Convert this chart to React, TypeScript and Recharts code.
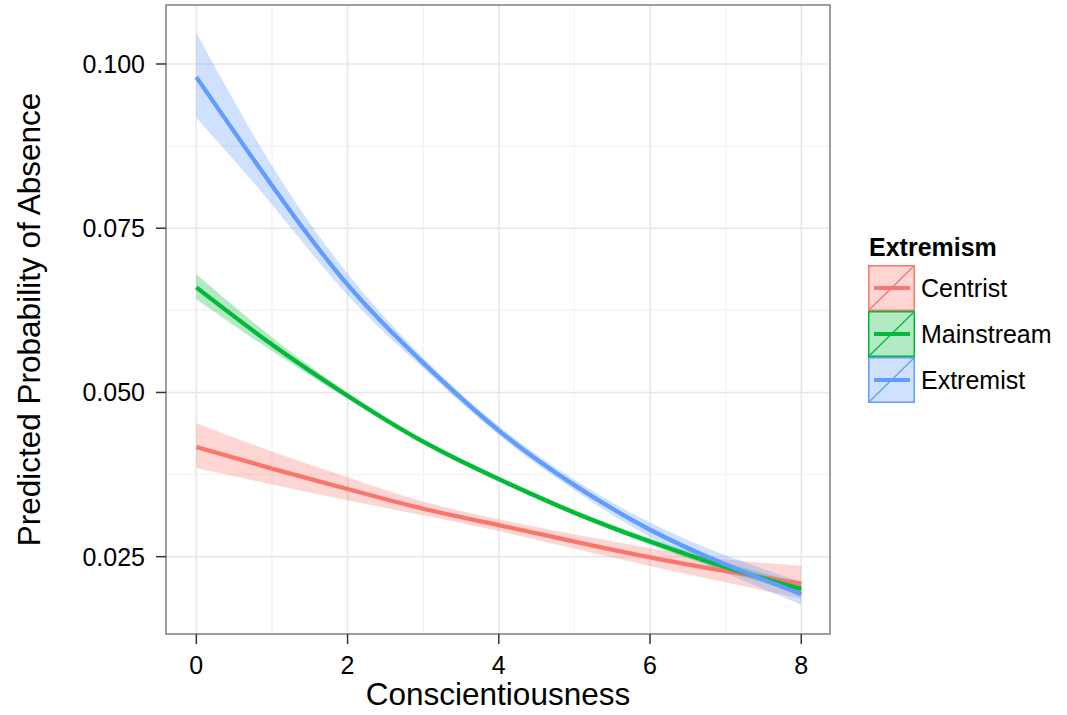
import React from 'react';
import {
  ComposedChart,
  Line,
  Area,
  XAxis,
  YAxis,
  CartesianGrid,
  ReferenceArea,
  Legend,
} from 'recharts';

// conscientiousness values where the curves were read
const conscientiousness = [0, 1, 2, 3, 4, 5, 6, 7, 8];

const centrist = [0.0417, 0.0384, 0.0353, 0.0323, 0.0298, 0.0273, 0.0249, 0.0228, 0.0209];
const centristLow = [0.0385, 0.036, 0.0336, 0.0313, 0.0289, 0.0262, 0.0236, 0.0211, 0.0186];
const centristHigh = [0.0453, 0.041, 0.0371, 0.0334, 0.0307, 0.0284, 0.0263, 0.0246, 0.0236];

const mainstream = [0.066, 0.0573, 0.0495, 0.0425, 0.0368, 0.0317, 0.0273, 0.0234, 0.0201];
const mainstreamLow = [0.0642, 0.0563, 0.049, 0.0421, 0.0364, 0.0313, 0.0268, 0.0228, 0.0194];
const mainstreamHigh = [0.068, 0.0584, 0.05, 0.0429, 0.0372, 0.0321, 0.0278, 0.0241, 0.0209];

const extremist = [0.098, 0.0815, 0.0664, 0.0545, 0.0442, 0.0359, 0.0291, 0.0238, 0.0193];
const extremistLow = [0.0918, 0.0786, 0.0648, 0.0537, 0.0435, 0.0351, 0.028, 0.0225, 0.0177];
const extremistHigh = [0.1047, 0.0845, 0.0681, 0.0553, 0.0449, 0.0367, 0.0302, 0.0252, 0.0212];

const xTicks = [0, 2, 4, 6, 8];
const xMinor = [1, 3, 5, 7];
const yTicks = [0.025, 0.05, 0.075, 0.1];
const yMinor = [0.0375, 0.0625, 0.0875];
const yTickLabels = ['0.025', '0.050', '0.075', '0.100'];

const xDomain = [-0.401, 8.38];
const yDomain = [0.01323, 0.10898];

const series = [
  { key: 'centrist', name: 'Centrist', color: '#F8766D' },
  { key: 'mainstream', name: 'Mainstream', color: '#00BA38' },
  { key: 'extremist', name: 'Extremist', color: '#619CFF' },
];

const data = conscientiousness.map((x, i) => ({
  x,
  centrist: centrist[i],
  centristBand: [centristLow[i], centristHigh[i]],
  mainstream: mainstream[i],
  mainstreamBand: [mainstreamLow[i], mainstreamHigh[i]],
  extremist: extremist[i],
  extremistBand: [extremistLow[i], extremistHigh[i]],
}));

const FONT = '"Liberation Sans", Arial, Helvetica, sans-serif';

function LegendKey({ color }: { color: string }) {
  return (
    <svg width={47} height={46} style={{ display: 'block' }}>
      <rect x={0.75} y={0.75} width={45.5} height={44.5} fill={color} fillOpacity={0.3} stroke={color} strokeWidth={1.5} />
      <line x1={1} y1={45} x2={46} y2={1} stroke={color} strokeWidth={1.3} />
      <line x1={6} y1={23} x2={42} y2={23} stroke={color} strokeWidth={4} />
    </svg>
  );
}

function ExtremismLegend() {
  return (
    <div style={{ fontFamily: FONT, color: '#000', textAlign: 'left' }}>
      <div style={{ fontSize: 25, fontWeight: 'bold', lineHeight: '30px', marginLeft: 1, marginBottom: 3 }}>Extremism</div>
      {series.map((s) => (
        <div key={s.key} style={{ display: 'flex', alignItems: 'center', height: 46 }}>
          <LegendKey color={s.color} />
          <span style={{ fontSize: 25, marginLeft: 6 }}>{s.name}</span>
        </div>
      ))}
    </div>
  );
}

export default function App() {
  return (
    <div style={{ position: 'absolute', left: 0, top: 0, width: 1067, height: 715, background: '#fff', fontFamily: FONT }}>
      <ComposedChart width={1067} height={715} data={data} margin={{ top: 5, right: 237, bottom: 0, left: 0 }}>
        <CartesianGrid verticalValues={xMinor} horizontalValues={yMinor} stroke="#f4f4f4" strokeWidth={1.5} />
        <CartesianGrid verticalValues={xTicks} horizontalValues={yTicks} stroke="#e6e6e6" strokeWidth={1.5} />
        <XAxis
          type="number"
          dataKey="x"
          domain={xDomain}
          ticks={xTicks}
          allowDataOverflow
          axisLine={false}
          tickLine={{ stroke: '#333', strokeWidth: 1.5 }}
          tickSize={10}
          tickMargin={12}
          tick={{ fontSize: 25, fill: '#000', fontFamily: FONT }}
          height={81}
          label={{
            content: (props: any) => {
              const vb = props.viewBox;
              return (
                <text x={vb.x + vb.width / 2} y={vb.y + 71} textAnchor="middle" fontSize={31.5} fill="#000" fontFamily={FONT}>
                  Conscientiousness
                </text>
              );
            },
          }}
        />
        <YAxis
          type="number"
          domain={yDomain}
          ticks={yTicks}
          allowDataOverflow
          axisLine={false}
          tickLine={{ stroke: '#333', strokeWidth: 1.5 }}
          tickSize={10}
          tickMargin={11}
          tickFormatter={(v: number) => yTickLabels[yTicks.indexOf(v)] ?? String(v)}
          tick={{ fontSize: 25, fill: '#000', fontFamily: FONT }}
          width={166}
          label={{
            content: (props: any) => {
              const vb = props.viewBox;
              const cx = 40;
              const cy = vb.y + vb.height / 2;
              return (
                <text x={cx} y={cy} transform={`rotate(-90 ${cx} ${cy})`} textAnchor="middle" fontSize={31.5} fill="#000" fontFamily={FONT}>
                  Predicted Probability of Absence
                </text>
              );
            },
          }}
        />
        {series.map((s) => (
          <Area
            key={s.key + 'Band'}
            type="natural"
            dataKey={s.key + 'Band'}
            stroke="none"
            fill={s.color}
            fillOpacity={0.3}
            isAnimationActive={false}
            activeDot={false}
            legendType="none"
          />
        ))}
        {series.map((s) => (
          <Line
            key={s.key}
            type="natural"
            dataKey={s.key}
            name={s.name}
            stroke={s.color}
            strokeWidth={4.3}
            dot={false}
            activeDot={false}
            isAnimationActive={false}
          />
        ))}
        <ReferenceArea
          x1={xDomain[0]}
          x2={xDomain[1]}
          y1={yDomain[0]}
          y2={yDomain[1]}
          fill="none"
          stroke="#7f7f7f"
          strokeWidth={1.5}
          ifOverflow="visible"
        />
        <Legend
          layout="horizontal"
          verticalAlign="middle"
          align="center"
          content={() => <ExtremismLegend />}
          wrapperStyle={{ left: 868, top: 232, width: 199 }}
        />
      </ComposedChart>
    </div>
  );
}
